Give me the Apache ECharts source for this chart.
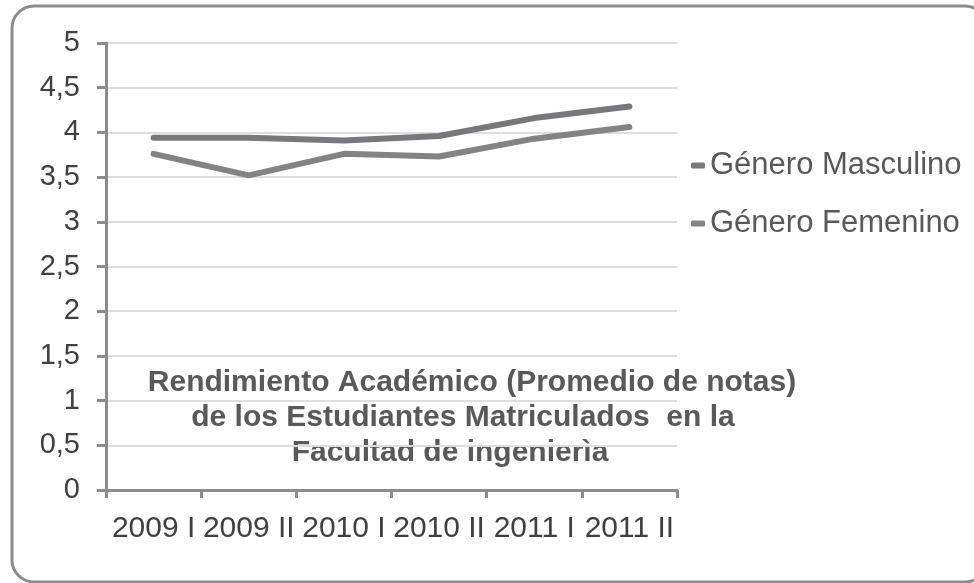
<!DOCTYPE html>
<html>
<head>
<meta charset="utf-8">
<script src="https://cdn.jsdelivr.net/npm/echarts@6/dist/echarts.min.js"></script>
<style>
  html, body { margin: 0; padding: 0; background: #fff; }
  #chart { width: 974px; height: 583px; }
</style>
</head>
<body>
<div id="chart"></div>
<script>
// periodos academicos
var periodos = ['2009 I', '2009 II', '2010 I', '2010 II', '2011 I', '2011 II']
// promedio de notas
var masculino = [3.94, 3.94, 3.91, 3.96, 4.16, 4.29]
var femenino = [3.76, 3.52, 3.76, 3.73, 3.93, 4.06]
var titulo = [
  'Rendimiento Académico (Promedio de notas)',
  'de los Estudiantes Matriculados  en la',
  'Facultad de ingenierìa'
]

var chart = echarts.init(document.getElementById('chart'))
var fuente = '"Liberation Sans", Arial, sans-serif'

chart.setOption({
  animation: false,
  textStyle: { fontFamily: fuente },
  grid: {
    left: 106,
    right: 297,
    top: 43,
    bottom: 93
  },
  legend: {
    orient: 'vertical',
    left: 686,
    top: 145,
    itemGap: 27,
    itemWidth: 14,
    itemHeight: 6,
    icon: 'roundRect',
    textStyle: { fontSize: 31, color: '#595959', fontFamily: fuente },
    data: ['Género Masculino', 'Género Femenino']
  },
  xAxis: {
    type: 'category',
    data: periodos,
    boundaryGap: true,
    axisLine: { lineStyle: { color: '#8c8c8c', width: 3 } },
    axisTick: { show: true, length: 8, lineStyle: { color: '#8c8c8c', width: 3 } },
    axisLabel: { fontSize: 30, color: '#404040', margin: 24, interval: 0 }
  },
  yAxis: {
    type: 'value',
    min: 0,
    max: 5,
    interval: 0.5,
    axisLine: { show: true, lineStyle: { color: '#8c8c8c', width: 3 } },
    axisTick: { show: true, length: 9, lineStyle: { color: '#8c8c8c', width: 3 } },
    axisLabel: {
      fontSize: 29,
      color: '#404040',
      margin: 26,
      formatter: function (v) { return String(v).replace('.', ',') }
    },
    splitLine: { lineStyle: { color: '#dedede', width: 2 } }
  },
  series: [{
    name: 'Género Masculino',
    type: 'line',
    data: masculino,
    symbol: 'none',
    itemStyle: { color: '#77787b' },
    lineStyle: { color: '#77787b', width: 6, cap: 'round' }
  }, {
    name: 'Género Femenino',
    type: 'line',
    data: femenino,
    symbol: 'none',
    itemStyle: { color: '#838386' },
    lineStyle: { color: '#838386', width: 6, cap: 'round' }
  }],
  graphic: [{
    type: 'rect',
    shape: { x: 12, y: 6, width: 975, height: 576, r: 22 },
    style: { fill: null, stroke: '#8c8c8c', lineWidth: 3 },
    silent: true
  }, {
    type: 'text', x: 472, y: 383,
    style: { text: titulo[0], font: 'bold 30px ' + fuente, fill: '#595959', align: 'center', verticalAlign: 'middle' }
  }, {
    type: 'text', x: 463, y: 418,
    style: { text: titulo[1], font: 'bold 30px ' + fuente, fill: '#595959', align: 'center', verticalAlign: 'middle' }
  }, {
    type: 'text', x: 450, y: 453,
    style: { text: titulo[2], font: 'bold 30px ' + fuente, fill: '#595959', align: 'center', verticalAlign: 'middle' }
  }]
})
</script>
</body>
</html>
